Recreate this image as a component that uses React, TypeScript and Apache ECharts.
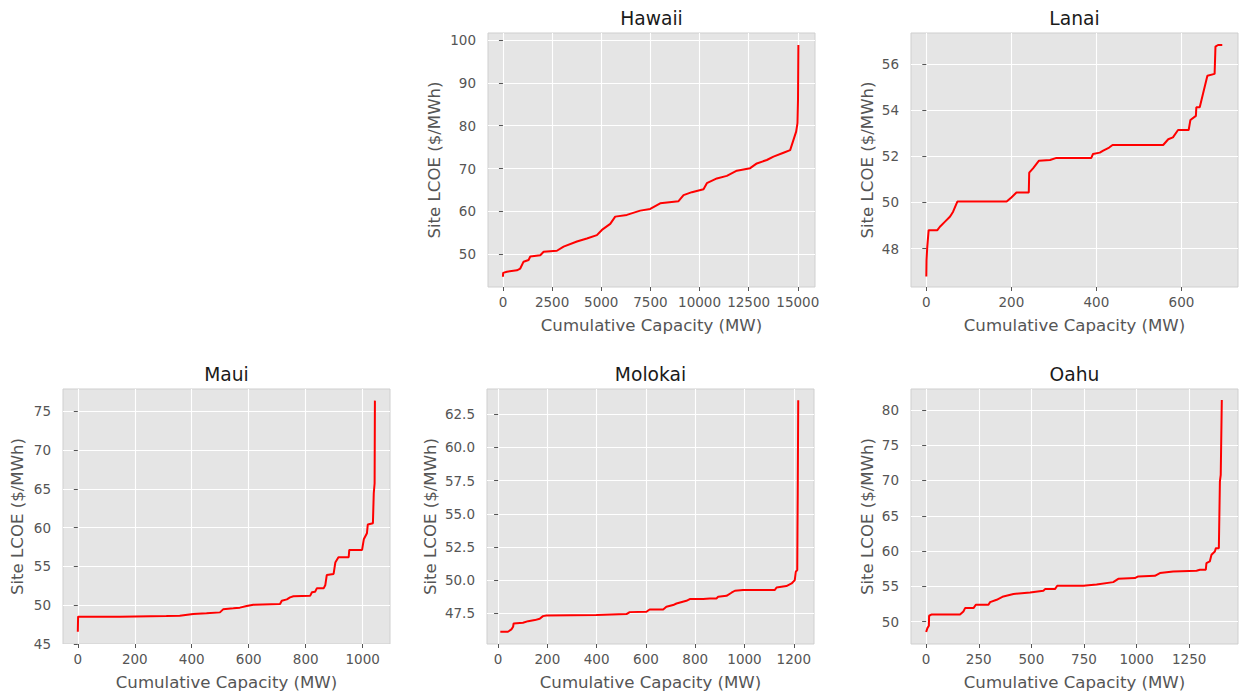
import React, { useEffect, useRef } from "react";
import * as echarts from "echarts";

// ---------- data ----------
const panelNames = ["Hawaii", "Lanai", "Maui", "Molokai", "Oahu"];

const hawaiiX = [0, 10, 200, 712, 880, 1050, 1305, 1390, 1900, 2070, 2745, 3085, 3763, 4270, 4780, 5034, 5458, 5712, 6305, 6983, 7492, 8000, 8933, 9187, 9611, 10204, 10373, 10882, 11390, 11899, 12577, 12916, 13424, 13763, 14272, 14611, 14780, 14916, 14984, 15010, 15030];
const hawaiiY = [44.8, 45.7, 45.95, 46.3, 46.7, 48.3, 48.7, 49.5, 49.8, 50.6, 50.85, 51.8, 53.0, 53.7, 54.5, 55.7, 57.1, 58.8, 59.2, 60.2, 60.6, 61.9, 62.4, 63.8, 64.5, 65.2, 66.6, 67.7, 68.3, 69.5, 70.1, 71.2, 72.0, 72.8, 73.7, 74.3, 76.7, 78.6, 80.6, 86.0, 98.8];

const lanaiX = [0, 0.5, 2.3, 5.5, 26, 32, 44, 56, 63, 73, 189, 200, 212, 241, 242, 251, 265, 291, 306, 388, 392, 408, 416, 430, 438, 557, 569, 580, 592, 617, 621, 634, 635, 643, 651, 661, 678, 680, 686, 696];
const lanaiY = [46.79, 47.5, 48.09, 48.8, 48.8, 48.95, 49.17, 49.39, 49.6, 50.04, 50.04, 50.22, 50.43, 50.43, 51.29, 51.48, 51.81, 51.84, 51.93, 51.93, 52.1, 52.16, 52.25, 52.38, 52.49, 52.49, 52.74, 52.82, 53.14, 53.14, 53.57, 53.75, 54.12, 54.12, 54.73, 55.49, 55.57, 56.75, 56.82, 56.82];

const mauiX = [0, 1, 147, 311, 358, 405, 452, 499, 510, 546, 569, 593, 616, 710, 716, 734, 745, 757, 816, 822, 833, 839, 863, 869, 874, 898, 904, 915, 951, 953, 998, 1004, 1015, 1018, 1036, 1039, 1042, 1043];
const mauiY = [46.59, 48.53, 48.53, 48.6, 48.65, 48.87, 48.96, 49.08, 49.47, 49.6, 49.69, 49.9, 50.07, 50.16, 50.59, 50.76, 51.02, 51.15, 51.24, 51.67, 51.75, 52.18, 52.18, 52.62, 53.9, 54.04, 55.5, 56.19, 56.19, 57.14, 57.14, 58.51, 59.29, 60.41, 60.58, 64.45, 65.74, 76.4];

const molokaiX = [9, 40, 54, 61, 63, 101, 122, 149, 169, 182, 196, 399, 521, 534, 602, 615, 670, 683, 710, 724, 764, 778, 832, 859, 886, 893, 927, 947, 961, 994, 1123, 1130, 1170, 1191, 1204, 1208, 1214, 1215, 1216, 1218];
const molokaiY = [46.12, 46.12, 46.3, 46.5, 46.75, 46.8, 46.92, 47.0, 47.1, 47.3, 47.35, 47.38, 47.45, 47.6, 47.63, 47.8, 47.8, 48.0, 48.13, 48.25, 48.45, 48.58, 48.58, 48.63, 48.63, 48.75, 48.83, 49.06, 49.21, 49.26, 49.26, 49.46, 49.56, 49.76, 50.01, 50.64, 50.76, 54.02, 56.53, 63.55];

const oahuX = [0, 6, 13, 14, 27, 161, 177, 185, 225, 236, 296, 304, 335, 367, 415, 494, 557, 565, 612, 623, 747, 810, 889, 913, 992, 1008, 1087, 1111, 1174, 1285, 1301, 1329, 1332, 1348, 1356, 1372, 1377, 1391, 1396, 1400, 1405];
const oahuY = [48.54, 49.1, 49.43, 50.85, 51.04, 51.04, 51.46, 51.93, 51.93, 52.41, 52.41, 52.78, 53.11, 53.58, 53.92, 54.15, 54.39, 54.62, 54.62, 55.09, 55.09, 55.28, 55.61, 56.08, 56.18, 56.42, 56.51, 56.89, 57.12, 57.22, 57.36, 57.36, 58.3, 58.54, 59.48, 59.95, 60.42, 60.42, 69.86, 70.8, 81.4];

// tick values
const hawaiiXTicks = [0, 2500, 5000, 7500, 10000, 12500, 15000];
const hawaiiYTicks = [50, 60, 70, 80, 90, 100];
const lanaiXTicks = [0, 200, 400, 600];
const lanaiYTicks = [48, 50, 52, 54, 56];
const mauiXTicks = [0, 200, 400, 600, 800, 1000];
const mauiYTicks = [45, 50, 55, 60, 65, 70, 75];
const molokaiXTicks = [0, 200, 400, 600, 800, 1000, 1200];
const molokaiYTicks = [47.5, 50, 52.5, 55, 57.5, 60, 62.5];
const oahuXTicks = [0, 250, 500, 750, 1000, 1250];
const oahuYTicks = [50, 55, 60, 65, 70, 75, 80];

const xAxisTitle = "Cumulative Capacity (MW)";
const yAxisTitle = "Site LCOE ($/MWh)";

// ---------- layout ----------
const FONT = "DejaVu Sans";
const panels = [
  { name: panelNames[0], xs: hawaiiX, ys: hawaiiY, xt: hawaiiXTicks, yt: hawaiiYTicks, xr: [-760, 15875], yr: [42.4, 101.6], left: 488, top: 33, w: 327, h: 254, ng: 45, dec: 0 },
  { name: panelNames[1], xs: lanaiX, ys: lanaiY, xt: lanaiXTicks, yt: lanaiYTicks, xr: [-36, 733], yr: [46.34, 57.34], left: 911, top: 33, w: 327, h: 254, ng: 35, dec: 0 },
  { name: panelNames[2], xs: mauiX, ys: mauiY, xt: mauiXTicks, yt: mauiYTicks, xr: [-52, 1096], yr: [45.0, 77.9], left: 63, top: 389, w: 327, h: 255, ng: 37, dec: 0 },
  { name: panelNames[3], xs: molokaiX, ys: molokaiY, xt: molokaiXTicks, yt: molokaiYTicks, xr: [-45, 1282], yr: [45.2, 64.4], left: 487, top: 389, w: 327, h: 255, ng: 48, dec: 1 },
  { name: panelNames[4], xs: oahuX, ys: oahuY, xt: oahuXTicks, yt: oahuYTicks, xr: [-72, 1482], yr: [46.85, 82.95], left: 911, top: 389, w: 327, h: 255, ng: 35, dec: 0 },
];

export default function App() {
  const ref = useRef<HTMLDivElement>(null);
  useEffect(() => {
    if (!ref.current) return;
    const chart = echarts.init(ref.current, undefined, { renderer: "svg" });
    const tickLabel = { color: "#555555", fontFamily: FONT, fontSize: 13.5 };
    const nameStyle = { color: "#555555", fontFamily: FONT, fontSize: 16.6 };
    const option: any = {
      animation: false,
      backgroundColor: "#ffffff",
      title: panels.map((p) => ({
        text: p.name,
        left: p.left + p.w / 2,
        top: p.top - 24,
        textAlign: "center",
        padding: 0,
        textStyle: { color: "#1a1a1a", fontFamily: FONT, fontSize: 18.7, fontWeight: "normal" },
      })),
      grid: panels.map((p) => ({
        left: p.left,
        top: p.top,
        width: p.w,
        height: p.h,
        show: true,
        backgroundColor: "#E5E5E5",
        borderColor: "#cfcfcf",
        borderWidth: 1,
        containLabel: false,
      })),
      xAxis: panels.map((p, i) => ({
        type: "value",
        gridIndex: i,
        min: p.xr[0],
        max: p.xr[1],
        name: xAxisTitle,
        nameLocation: "middle",
        nameGap: 30,
        nameTextStyle: nameStyle,
        axisLine: { show: false },
        axisTick: { show: true, length: 4, lineStyle: { color: "#555555", width: 1 }, customValues: p.xt },
        axisLabel: { ...tickLabel, margin: 8, customValues: p.xt, formatter: (v: number) => String(v) },
        splitLine: { show: true, lineStyle: { color: "#ffffff", width: 1.1 } },
      })),
      yAxis: panels.map((p, i) => ({
        type: "value",
        gridIndex: i,
        min: p.yr[0],
        max: p.yr[1],
        name: yAxisTitle,
        nameLocation: "middle",
        nameGap: p.ng,
        nameTextStyle: nameStyle,
        axisLine: { show: false },
        axisTick: { show: true, length: 4, lineStyle: { color: "#555555", width: 1 }, customValues: p.yt },
        axisLabel: { ...tickLabel, margin: 12, customValues: p.yt, formatter: (v: number) => v.toFixed(p.dec) },
        splitLine: { show: true, lineStyle: { color: "#ffffff", width: 1.1 } },
      })),
      series: panels.map((p, i) => ({
        type: "line",
        name: p.name,
        xAxisIndex: i,
        yAxisIndex: i,
        showSymbol: false,
        symbol: "none",
        data: p.xs.map((x, k) => [x, p.ys[k]]),
        lineStyle: { color: "#ff0000", width: 2 },
        itemStyle: { color: "#ff0000" },
      })),
    };
    chart.setOption(option);
    return () => chart.dispose();
  }, []);
  return (
    <div
      ref={ref}
      style={{ position: "fixed", left: 0, top: 0, width: 1239, height: 694, background: "#fff" }}
    />
  );
}
